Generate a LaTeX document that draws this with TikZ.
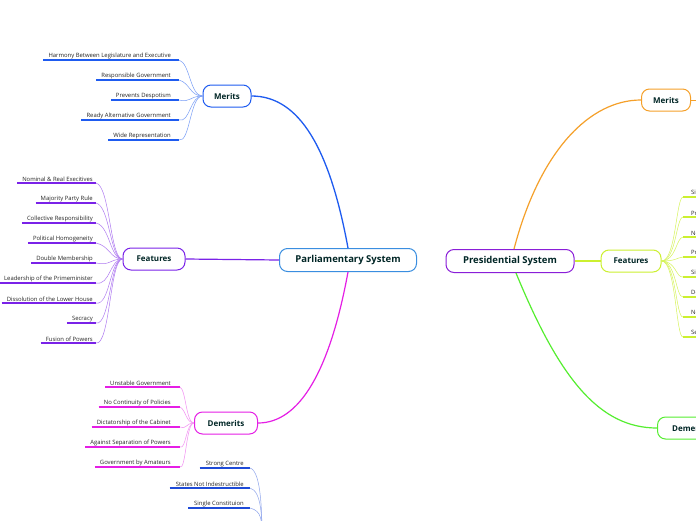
\documentclass[tikz,border=0pt]{standalone}
\usepackage{fontspec}
\setmainfont{Open Sans}
\begin{document}
\begin{tikzpicture}[x=1pt,y=-1pt,
  main/.style={draw,rounded corners=8pt,line width=1pt,minimum height=23pt,font=\fontsize{9.5}{11}\selectfont\bfseries,text=black!70!teal},
  sub/.style={draw,rounded corners=8pt,line width=1pt,minimum height=22pt,font=\fontsize{8}{10}\selectfont\bfseries,text=black!70!teal},
  leaf/.style={inner sep=1pt,font=\fontsize{5.9}{7}\selectfont,text=black!85},
  ul/.style={line width=1.4pt},
  con/.style={line width=0.5pt}]
\definecolor{cblue}{HTML}{1E5BF0}
\definecolor{cpurp}{HTML}{7A22E8}
\definecolor{cmag}{HTML}{E51EE5}
\definecolor{cpar}{HTML}{3A8EE0}
\definecolor{cpres}{HTML}{8A1ED8}
\definecolor{corg}{HTML}{F5A02A}
\definecolor{cyel}{HTML}{CCF030}
\definecolor{cgrn}{HTML}{55EE30}
\definecolor{cbot}{HTML}{1E4BD8}
\begin{scope}
\clip (0,0) rectangle (696,520);
\fill[white] (0,0) rectangle (696,520);
\node[main,draw=cpar,minimum width=137pt] (par) at (348,260) {Parliamentary System};
\node[main,draw=cpres,minimum width=128pt] (pres) at (510,261) {Presidential System};
\node[sub,draw=cblue,minimum width=48pt] (mer) at (227,96) {Merits};
\node[sub,draw=cpurp,minimum width=62pt] (fea) at (154,259) {Features};
\node[sub,draw=cmag,minimum width=63pt] (dem) at (226,423) {Demerits};
\node[sub,draw=corg,minimum width=49pt] (rmer) at (666,100) {Merits};
\node[sub,draw=cyel,minimum width=60pt] (rfea) at (631,261) {Features};
\node[sub,draw=cgrn,minimum width=66pt,anchor=west] (rdem) at (657,428) {Demerits};
% main connectors
\draw[cblue,line width=1.3pt] (par.north) .. controls (330,150) and (300,96) .. (mer.east);
\draw[cpurp,line width=1.2pt] (par.west) -- (fea.east);
\draw[cmag,line width=1.2pt] (par.south) .. controls (330,370) and (300,423) .. (dem.east);
\draw[corg,line width=1.2pt] ([xshift=4]pres.north) .. controls (540,150) and (590,100) .. (rmer.west);
\draw[corg,line width=1pt] (rmer.east) -- (700,100);
\draw[cyel,line width=1.2pt] (pres.east) -- (rfea.west);
\draw[cgrn,line width=1.2pt] ([xshift=6]pres.south) .. controls (560,380) and (600,428) .. (rdem.west);
% left merits
\foreach \t [count=\i] in {Harmony Between Legislature and Executive,Responsible Government,Prevents Despotism,Ready Alternative Government,Wide Representation}{
  \node[leaf,anchor=south east] (m\i) at (172,60+20*\i-20) {\t};
  \draw[cblue,ul] ([xshift=-4]m\i.south west) -- ([xshift=7]m\i.south east);
  \draw[cblue!60,con] (mer.west) .. controls (190,96) and (190,63+20*\i-20) .. ([xshift=7]m\i.south east);
}
% left features
\foreach \t [count=\i] in {Nominal \& Real Execitives,Majority Party Rule,Collective Responsibility,Political Homogeneity,Double Membership,Leadership of the Primeminister,Dissolution of the Lower House,Secracy,Fusion of Powers}{
  \node[leaf,anchor=south east] (f\i) at (94,183+20*\i-20) {\t};
  \draw[cpurp,ul] ([xshift=-4]f\i.south west) -- ([xshift=2]f\i.south east);
  \draw[cpurp!60,con] (fea.west) .. controls (110,259) and (110,186+20*\i-20) .. ([xshift=2]f\i.south east);
}
% left demerits
\foreach \t [count=\i] in {Unstable Government,No Continuity of Policies,Dictatorship of the Cabinet,Against Separation of Powers,Government by Amateurs}{
  \node[leaf,anchor=south east] (d\i) at (172,387+20*\i-20) {\t};
  \draw[cmag,ul] ([xshift=-4]d\i.south west) -- ([xshift=8]d\i.south east);
  \draw[cmag!50,con] (dem.west) .. controls (186,423) and (186,390+20*\i-20) .. ([xshift=8]d\i.south east);
}
% bottom group
\coordinate (bot) at (262,540);
\foreach \t [count=\i] in {Strong Centre,States Not Indestructible,Single Constituion}{
  \node[leaf,anchor=south east] (b\i) at (245,468+20*\i-20) {\t};
  \draw[cbot,ul] ([xshift=-5]b\i.south west) -- ([xshift=5]b\i.south east);
  \draw[cbot!50,con] (bot) .. controls (262,520) and (262,471+20*\i-20) .. ([xshift=5]b\i.south east);
}
% right features
\foreach \t [count=\i] in {Single Executive,President,No Dissolution,President Not Responsible,Single Party Cabinet,Doctrine of Separation,No Collective Responsibility,Security of Tenure}{
  \node[leaf,anchor=south west] (r\i) at (690,197+20*\i-20) {\t};
  \draw[cyel,ul] ([xshift=-7]r\i.south west) -- ([xshift=5]r\i.south east);
  \draw[cyel!80,con] (rfea.east) .. controls (676,261) and (676,198+20*\i-20) .. ([xshift=-7]r\i.south west);
}
\end{scope}
\useasboundingbox (0,0) rectangle (696,520);
\end{tikzpicture}
\end{document}
